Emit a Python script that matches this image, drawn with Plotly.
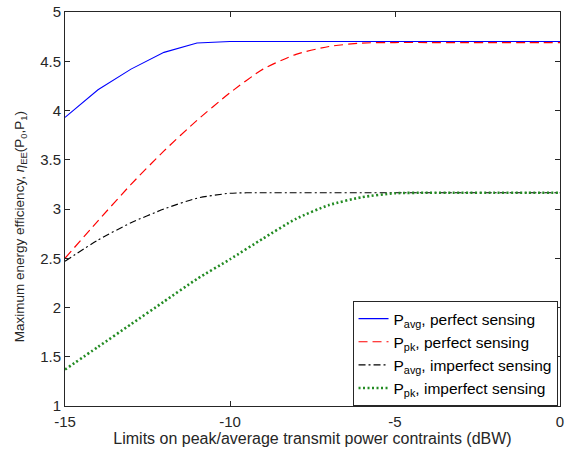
import plotly.graph_objects as go

# Power constraint limit (dBW)
limits_dbw = [-15, -14, -13, -12, -11, -10, -9, -8, -7, -6, -5, -4, -3, -2, -1, 0]

# Maximum energy efficiency for each scheme
avg_perfect = [3.93, 4.21, 4.42, 4.59, 4.685, 4.70, 4.70, 4.70, 4.70, 4.70, 4.70, 4.70, 4.70, 4.70, 4.70, 4.70]
pk_perfect = [2.50, 2.88, 3.25, 3.59, 3.90, 4.18, 4.42, 4.57, 4.65, 4.685, 4.69, 4.69, 4.69, 4.69, 4.69, 4.69]
avg_imperfect = [2.47, 2.685, 2.86, 3.00, 3.11, 3.16, 3.165, 3.165, 3.165, 3.165, 3.165, 3.165, 3.165, 3.165, 3.165, 3.165]
pk_imperfect = [1.37, 1.60, 1.83, 2.06, 2.29, 2.49, 2.70, 2.90, 3.04, 3.12, 3.16, 3.165, 3.165, 3.165, 3.165, 3.165]

x_ticks = [-15, -10, -5, 0]
y_ticks = [1, 1.5, 2, 2.5, 3, 3.5, 4, 4.5, 5]

FONT = "Liberation Sans, Arial, Helvetica, sans-serif"
AXIS_COLOR = "#262626"

fig = go.Figure()
fig.add_trace(go.Scatter(
    x=limits_dbw, y=avg_perfect, mode="lines",
    name="P<sub>avg</sub>, perfect sensing",
    line=dict(color="#0000FF", width=1.1)))
fig.add_trace(go.Scatter(
    x=limits_dbw, y=pk_perfect, mode="lines",
    name="P<sub>pk</sub>, perfect sensing",
    line=dict(color="#FF0000", width=1.2, dash="9px,5px", shape="spline", smoothing=0.6)))
fig.add_trace(go.Scatter(
    x=limits_dbw, y=avg_imperfect, mode="lines",
    name="P<sub>avg</sub>, imperfect sensing",
    line=dict(color="#000000", width=1.1, dash="7px,3px,2px,3px", shape="spline", smoothing=0.6)))
fig.add_trace(go.Scatter(
    x=limits_dbw, y=pk_imperfect, mode="lines",
    name="P<sub>pk</sub>, imperfect sensing",
    line=dict(color="#228B22", width=2.6, dash="2px,2.5px", shape="spline", smoothing=0.6)))

axis_common = dict(
    showline=True, linecolor=AXIS_COLOR, linewidth=1, mirror="ticks",
    ticks="inside", ticklen=5, tickcolor=AXIS_COLOR, tickwidth=1,
    showgrid=False, zeroline=False, ticklabeloverflow="allow",
    tickfont=dict(family=FONT, size=15, color=AXIS_COLOR),
)

fig.update_xaxes(
    range=[-15, 0], tickvals=x_ticks, ticktext=[f"{v:g}" for v in x_ticks],
    ticklabelstandoff=2,
    title=dict(text="Limits on peak/average transmit power contraints (dBW)",
               font=dict(family=FONT, size=16, color=AXIS_COLOR), standoff=0),
    **axis_common)
fig.update_yaxes(
    range=[1, 5], tickvals=y_ticks, ticktext=[f"{v:g}" for v in y_ticks],
    **axis_common)

# Y-axis title placed as a rotated annotation close to the left edge
fig.add_annotation(
    text="Maximum energy efficiency, <i>η</i><sub>EE</sub>(P<sub>0</sub>,P<sub>1</sub>)",
    xref="paper", yref="paper", x=-0.09, y=0.455,
    xanchor="center", yanchor="middle", textangle=-90, showarrow=False,
    font=dict(family=FONT, size=13.5, color=AXIS_COLOR))

fig.update_layout(
    width=566, height=449,
    margin=dict(l=65, r=2, t=12, b=43),
    paper_bgcolor="white", plot_bgcolor="white",
    showlegend=True,
    legend=dict(
        x=0.995, y=0.0, xanchor="right", yanchor="bottom",
        bgcolor="white", bordercolor="#262626", borderwidth=1,
        font=dict(family=FONT, size=15.5, color="#000000"),
        tracegroupgap=0, itemwidth=30,
    ),
)

fig.write_html("out.html")
